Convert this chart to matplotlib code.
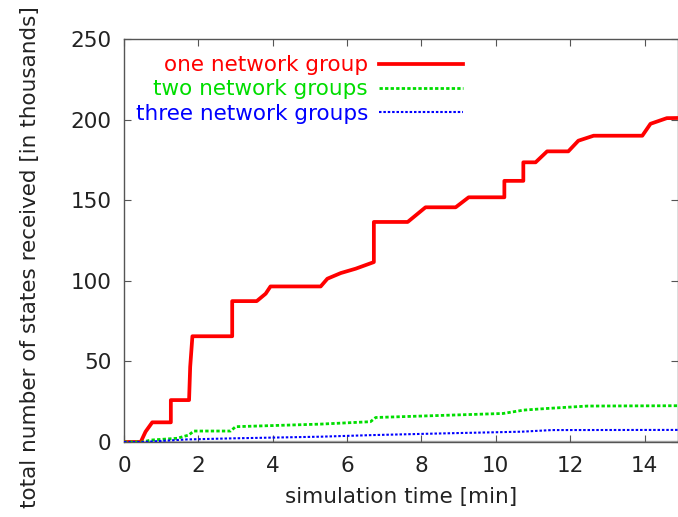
import matplotlib
matplotlib.use("Agg")
import matplotlib.pyplot as plt

# simulation time [min] and received states [thousands]
t_one = [0, 0.45, 0.58, 0.76, 1.26, 1.26, 1.75, 1.78, 1.84, 2.91, 2.91, 3.57, 3.81, 3.94,
         5.29, 5.47, 5.83, 6.23, 6.72, 6.72, 7.63, 8.11, 8.92, 9.27, 10.23, 10.23,
         10.74, 10.74, 11.07, 11.38, 11.95, 12.22, 12.63, 13.94, 14.16, 14.6, 14.9]
v_one = [0, 0, 6.4, 12.2, 12.2, 26, 26, 46.6, 65.6, 65.6, 87.4, 87.4, 92, 96.5,
         96.5, 101.3, 104.8, 107.5, 111.6, 136.5, 136.5, 145.6, 145.6, 151.8, 151.8, 162,
         162, 173.5, 173.5, 180.3, 180.3, 186.9, 190, 190, 197.4, 200.9, 201]

t_two = [0, 0.5, 0.72, 1.43, 1.74, 1.88, 2.87, 3.0, 5.29, 6.63, 6.77, 8.0, 10.2,
         10.75, 11.38, 12.46, 14.9]
v_two = [0, 0, 1.2, 2.3, 4.3, 6.8, 6.8, 9.5, 11.1, 12.6, 15.2, 16.1, 17.7,
         19.8, 20.8, 22.3, 22.5]

t_three = [0, 0.5, 1.7, 3.0, 5.3, 6.7, 8.5, 10.7, 11.5, 14.9]
v_three = [0, 0, 1.6, 2.3, 3.3, 4.3, 5.3, 6.4, 7.4, 7.5]

labels = ["one network group", "two network groups", "three network groups"]

plt.rcParams['font.family'] = ['DejaVu Sans']
fig = plt.figure(figsize=(6.78, 5.17), dpi=100)
ax = fig.add_axes([124 / 678, 75 / 517, (678 - 124) / 678, (442 - 39) / 517])

ax.axhline(0, color="#b0b0b0", lw=2.5, zorder=1)
ax.plot(t_one, v_one, color="#ff0000", lw=2.7, label=labels[0], zorder=3)
ax.plot(t_two, v_two, color="#00dd00", lw=2, ls=(0, (1.2, 0.8)), label=labels[1], zorder=3)
ax.plot(t_three, v_three, color="#0000ff", lw=1.5, ls=(0, (1.2, 0.9)), label=labels[2], zorder=3)

ax.set_xlim(0, 14.9)
ax.set_ylim(0, 250)
ax.set_xticks(range(0, 15, 2))
ax.set_yticks(range(0, 251, 50))
ax.tick_params(direction="in", top=True, right=True, labelsize=15.5, length=5,
               color="#555555", labelcolor="#222222")
ax.tick_params(axis="x", pad=10)
ax.tick_params(axis="y", pad=9)
for sp in ax.spines.values():
    sp.set_color("#555555")
    sp.set_linewidth(1)

ax.set_xlabel("simulation time [min]", fontsize=15.5, color="#222222", labelpad=8)
fig.text(30 / 678, 1 - 508 / 517, "total number of states received [in thousands]",
         rotation=90, fontsize=15.5, ha="center", va="bottom", color="#222222")

leg = ax.legend(loc="upper left", bbox_to_anchor=(-0.014, 1.008), frameon=False,
                markerfirst=False, labelcolor="linecolor", fontsize=15.5,
                handlelength=3.9, handletextpad=0.5, labelspacing=0.2)
for txt in leg.get_texts():
    txt.set_ha("right")
leg._legend_box.align = "right"

fig.savefig("out.png", dpi=100)
